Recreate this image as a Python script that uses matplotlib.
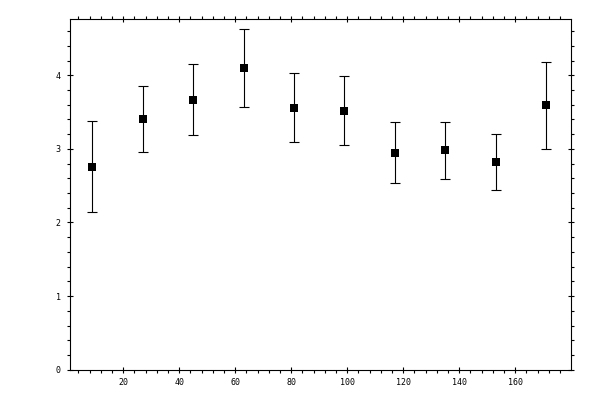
import matplotlib
matplotlib.use("Agg")
import matplotlib.pyplot as plt
from matplotlib.ticker import MultipleLocator

x = [9, 27, 45, 63, 81, 99, 117, 135, 153, 171]
y = [2.76, 3.41, 3.67, 4.10, 3.56, 3.52, 2.95, 2.98, 2.82, 3.59]
err = [0.62, 0.45, 0.48, 0.53, 0.47, 0.47, 0.41, 0.39, 0.38, 0.59]

fig = plt.figure(figsize=(6, 4), dpi=100)
ax = fig.add_axes([0.1162, 0.0758, 0.9512 - 0.1162, 0.9518 - 0.0758])

ax.errorbar(x, y, yerr=err, fmt='none', ecolor='black', capsize=3.4,
            elinewidth=0.8, capthick=0.8)
ax.plot(x, y, 's', color='black', ms=5.3, markeredgewidth=0, linestyle='none')

ax.set_xlim(0.9, 179.8)
ax.set_ylim(0, 4.76)
ax.xaxis.set_major_locator(MultipleLocator(20))
ax.xaxis.set_minor_locator(MultipleLocator(4))
ax.yaxis.set_major_locator(MultipleLocator(1))
ax.yaxis.set_minor_locator(MultipleLocator(0.2))

for s in ax.spines.values():
    s.set_linewidth(0.8)

ax.tick_params(which='both', top=True, right=True, labeltop=False, labelright=False,
               width=0.8, labelsize=6, color='black')
ax.tick_params(which='major', direction='inout', length=4)
ax.tick_params(which='minor', direction='out', length=2)
ax.tick_params(axis='x', which='major', pad=4)
ax.tick_params(axis='y', which='major', pad=4.5)
for lab in ax.get_xticklabels() + ax.get_yticklabels():
    lab.set_family('DejaVu Sans Mono')

fig.savefig('out.png', dpi=100)
